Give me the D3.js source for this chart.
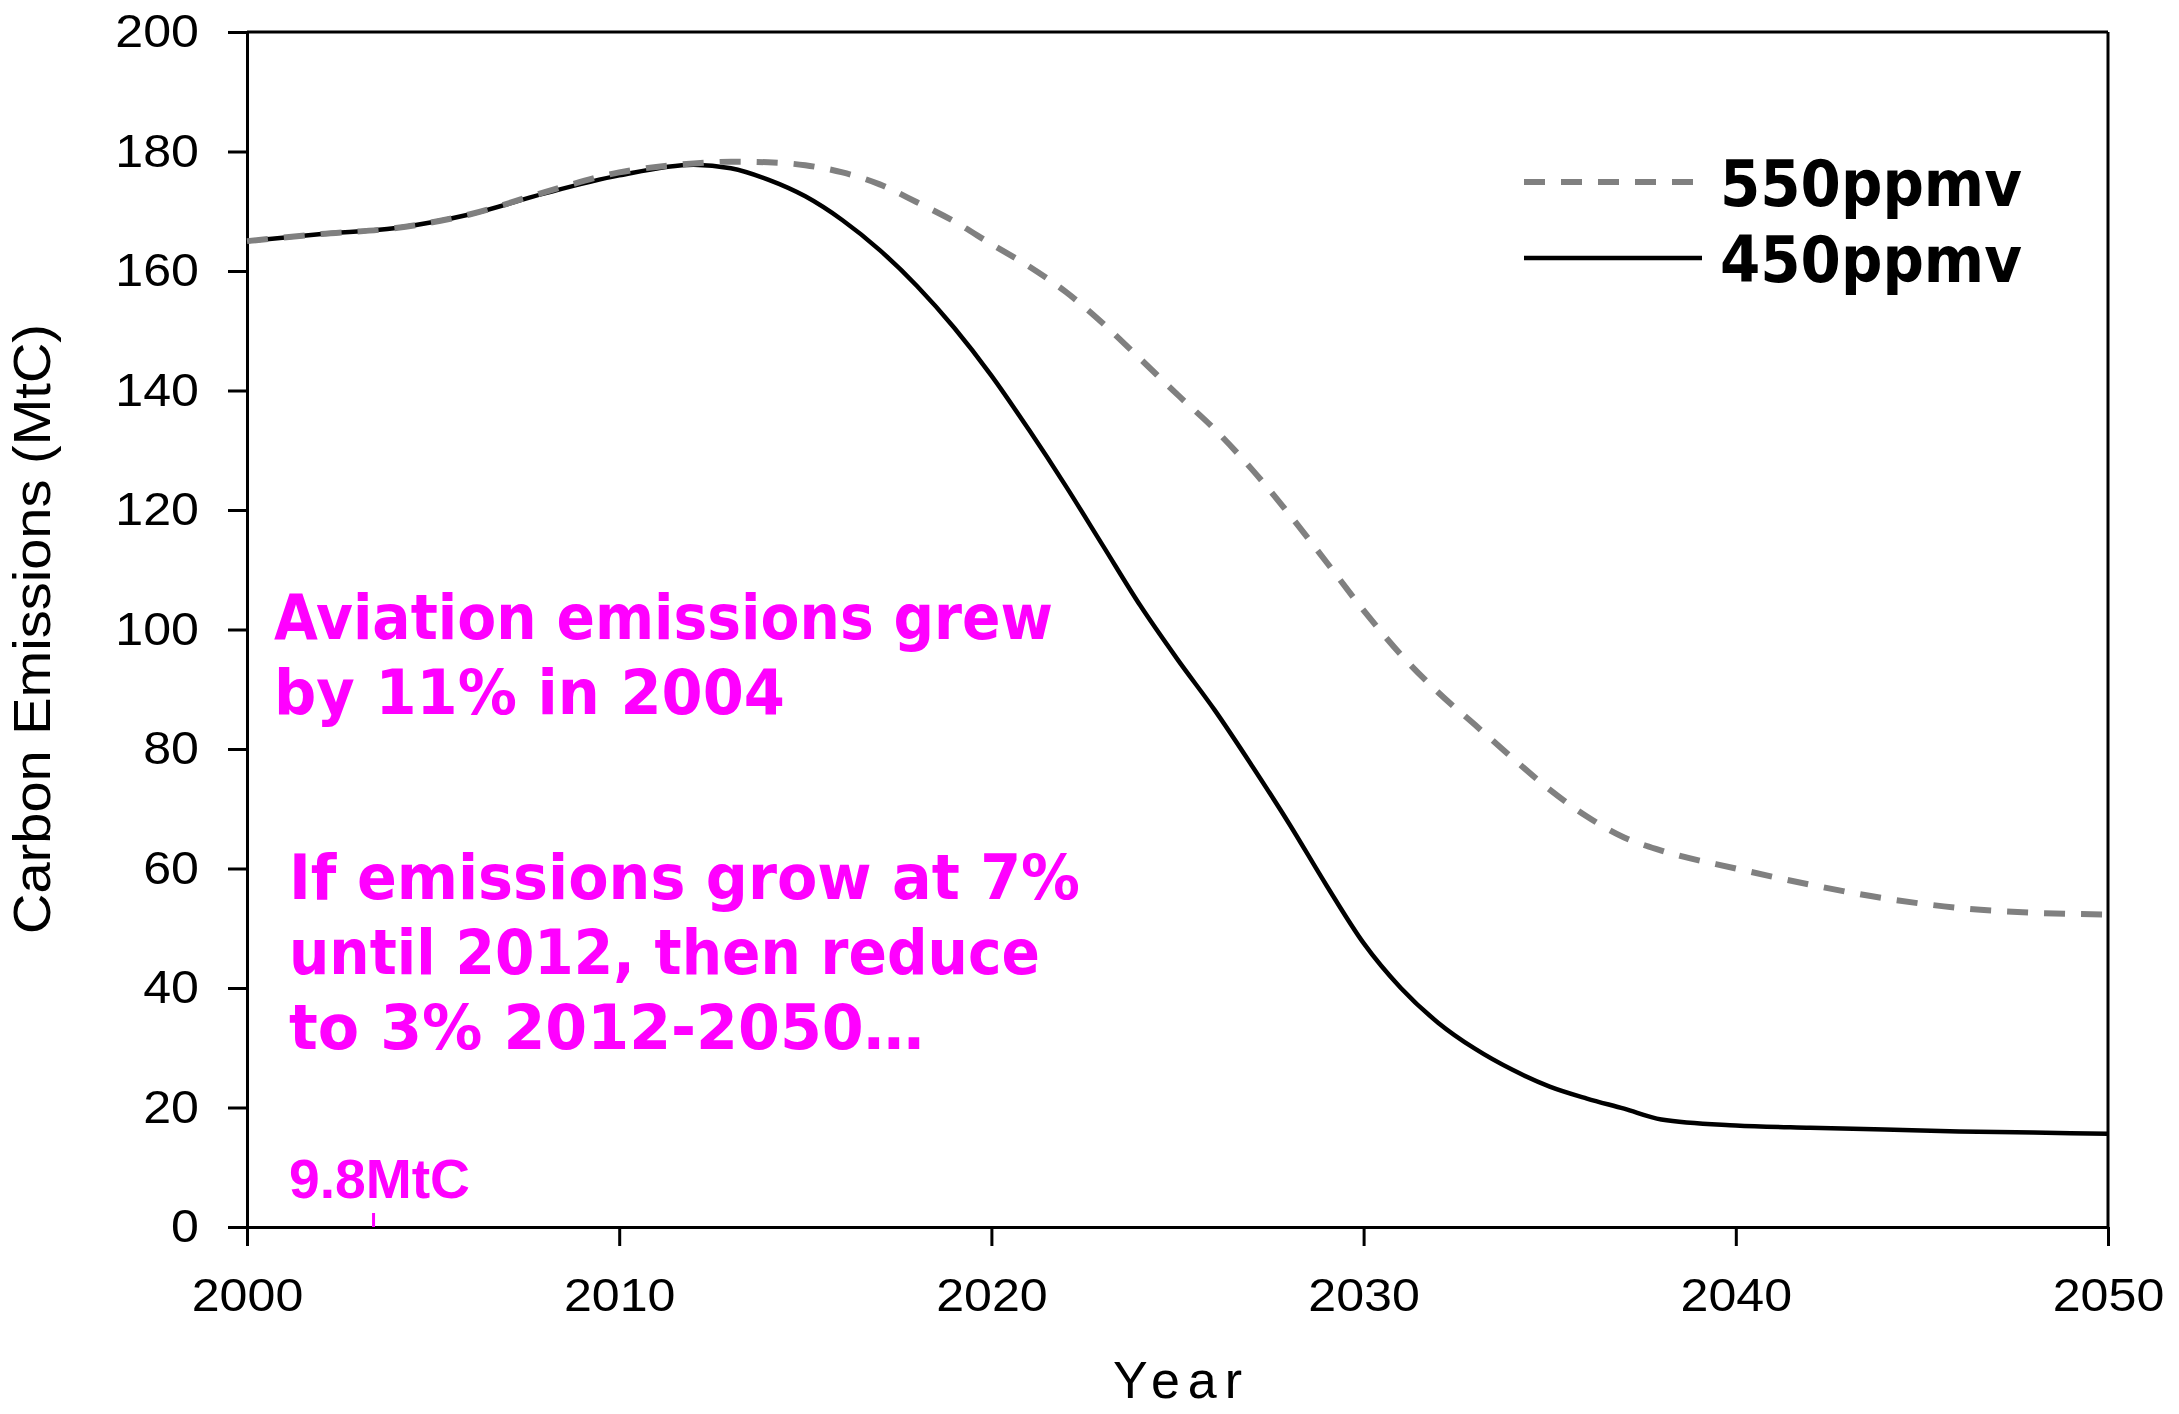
<!DOCTYPE html>
<html>
<head>
<meta charset="utf-8">
<script src="https://cdn.jsdelivr.net/npm/d3@7/dist/d3.min.js"></script>
<style>
  html, body { margin: 0; padding: 0; background: #fff; }
  svg { display: block; }
</style>
</head>
<body>
<svg id="chart" width="2179" height="1414"></svg>
<script>
// Emission pathways (MtC) by year
const years = [2000, 2002, 2004, 2006, 2008, 2010, 2012, 2013, 2014, 2015, 2016, 2017, 2018, 2019,
  2020, 2021, 2022, 2023, 2024, 2025, 2026, 2027, 2028, 2029, 2030, 2031, 2032, 2033, 2034, 2035,
  2036, 2037, 2038, 2040, 2042, 2044, 2046, 2048, 2050];
const ppmv450 = [165, 166.2, 167.2, 169.5, 173, 176, 177.8, 177.2, 175.3, 172.5, 168.5, 163.5, 157.5, 150.5,
  142.5, 133.5, 124, 114, 104, 95, 86.5, 77.2, 67.5, 57.2, 47.5, 40, 34.2, 29.8, 26.3, 23.5,
  21.5, 19.8, 18, 17, 16.6, 16.3, 16, 15.8, 15.6];
const ppmv550 = [165, 166.2, 167.2, 169.5, 173.2, 176.5, 178, 178.3, 178.2, 177.7, 176.5, 174.5, 171.5, 168.3,
  164.5, 160.8, 156.5, 151.2, 145.3, 139.3, 133.5, 126.8, 119.3, 111.3, 103.2, 95.8, 89.5, 84, 78.5, 73.2,
  68.7, 65.2, 63, 60, 57.3, 55, 53.4, 52.6, 52.3];

const seriesNames = ["550ppmv", "450ppmv"];
const xTicks = [2000, 2010, 2020, 2030, 2040, 2050];
const yTicks = [0, 20, 40, 60, 80, 100, 120, 140, 160, 180, 200];

const notes1 = ["Aviation emissions grew", "by 11% in 2004"];
const notes2 = ["If emissions grow at 7%", "until 2012, then reduce", "to 3% 2012-2050…"];
const markYear = 2003.4;
const markLabel = "9.8MtC";

const svg = d3.select("#chart");
const plotLeft = 247, plotRight = 2108, plotTop = 32, plotBottom = 1227;

const x = d3.scaleLinear().domain([2000, 2050]).range([plotLeft, plotRight]);
const y = d3.scaleLinear().domain([0, 200]).range([plotBottom, plotTop]);

const tickFont = "'Liberation Sans', Arial, sans-serif";
const boldFont = "'DejaVu Sans', Verdana, sans-serif";
const MAGENTA = "#FF00FF";

// frame: top and right edges
svg.append("line").attr("x1", plotLeft).attr("x2", plotRight).attr("y1", plotTop).attr("y2", plotTop)
  .attr("stroke", "#000").attr("stroke-width", 3);
svg.append("line").attr("x1", plotRight).attr("x2", plotRight).attr("y1", plotTop).attr("y2", plotBottom)
  .attr("stroke", "#000").attr("stroke-width", 3);

function styleAxis(g) {
  g.select(".domain").attr("stroke", "#000").attr("stroke-width", 3);
  g.selectAll(".tick line").attr("stroke", "#000").attr("stroke-width", 3);
  g.selectAll(".tick text")
    .attr("fill", "#000")
    .style("font-family", tickFont)
    .style("font-size", "46px")
    .each(function () {
      const w = this.getComputedTextLength();
      d3.select(this).attr("textLength", w * 1.09).attr("lengthAdjust", "spacingAndGlyphs");
    });
}

const xAxis = svg.append("g")
  .attr("transform", `translate(0,${plotBottom})`)
  .call(d3.axisBottom(x).tickValues(xTicks).tickFormat(d3.format("d"))
    .tickSize(19).tickSizeOuter(0).tickPadding(32));
styleAxis(xAxis);

const yAxis = svg.append("g")
  .attr("transform", `translate(${plotLeft},0)`)
  .call(d3.axisLeft(y).tickValues(yTicks).tickFormat(d3.format("d"))
    .tickSize(19).tickSizeOuter(0).tickPadding(29));
styleAxis(yAxis);

// axis titles
svg.append("text")
  .attr("transform", `translate(50,629) rotate(-90)`)
  .attr("text-anchor", "middle")
  .style("font-family", tickFont).style("font-size", "52px")
  .attr("textLength", 610).attr("lengthAdjust", "spacingAndGlyphs")
  .text("Carbon Emissions (MtC)");

svg.append("text")
  .attr("x", (plotLeft + plotRight) / 2).attr("y", 1398)
  .attr("text-anchor", "middle")
  .style("font-family", tickFont).style("font-size", "52px")
  .attr("textLength", 129).attr("lengthAdjust", "spacing")
  .text("Year");

// series lines
const line = d3.line().curve(d3.curveMonotoneX);
const pts450 = years.map((yr, i) => [x(yr), y(ppmv450[i])]);
const pts550 = years.map((yr, i) => [x(yr), y(ppmv550[i])]);

svg.append("path").attr("d", line(pts450))
  .attr("fill", "none").attr("stroke", "#000").attr("stroke-width", 4.5);
svg.append("path").attr("d", line(pts550))
  .attr("fill", "none").attr("stroke", "#808080").attr("stroke-width", 6)
  .attr("stroke-dasharray", "21 16");

// legend
const legend = svg.append("g");
legend.append("line").attr("x1", 1524).attr("x2", 1698).attr("y1", 182).attr("y2", 182)
  .attr("stroke", "#808080").attr("stroke-width", 6).attr("stroke-dasharray", "21 16");
legend.append("line").attr("x1", 1524).attr("x2", 1702).attr("y1", 258).attr("y2", 258)
  .attr("stroke", "#000").attr("stroke-width", 4.5);
[[seriesNames[0], 206], [seriesNames[1], 282]].forEach(([t, by]) => {
  legend.append("text")
    .attr("x", 1720).attr("y", by)
    .style("font-family", boldFont).style("font-weight", "bold").style("font-size", "64px")
    .attr("textLength", 302).attr("lengthAdjust", "spacingAndGlyphs")
    .attr("fill", "#000")
    .text(t);
});

// annotations
const notes1Len = [779, 511];
const notes2Len = [791, 751, 635];
notes1.forEach((t, i) => {
  svg.append("text")
    .attr("x", 274).attr("y", 639 + i * 75)
    .style("font-family", boldFont).style("font-weight", "bold").style("font-size", "62px")
    .attr("fill", MAGENTA)
    .attr("textLength", notes1Len[i]).attr("lengthAdjust", "spacingAndGlyphs")
    .text(t);
});
notes2.forEach((t, i) => {
  svg.append("text")
    .attr("x", 289).attr("y", 899 + i * 75)
    .style("font-family", boldFont).style("font-weight", "bold").style("font-size", "62px")
    .attr("fill", MAGENTA)
    .attr("textLength", notes2Len[i]).attr("lengthAdjust", "spacingAndGlyphs")
    .text(t);
});

// marker for the 9.8MtC level
svg.append("line")
  .attr("x1", x(markYear)).attr("x2", x(markYear))
  .attr("y1", y(0) - 14).attr("y2", y(0))
  .attr("stroke", MAGENTA).attr("stroke-width", 3);
svg.append("text")
  .attr("x", 289).attr("y", 1198)
  .style("font-family", tickFont).style("font-weight", "bold").style("font-size", "56px")
  .attr("fill", MAGENTA)
  .attr("textLength", 181).attr("lengthAdjust", "spacingAndGlyphs")
  .text(markLabel);
</script>
</body>
</html>
